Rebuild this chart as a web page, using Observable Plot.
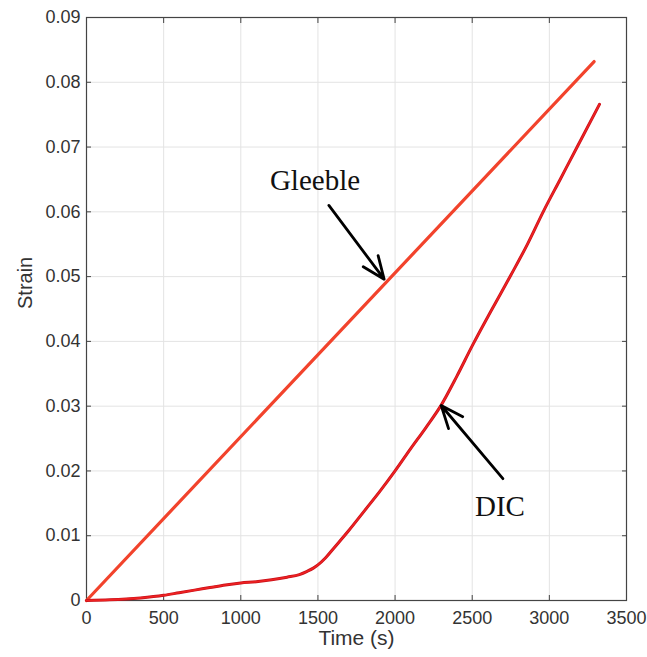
<!DOCTYPE html>
<html>
<head>
<meta charset="utf-8">
<script src="https://cdn.jsdelivr.net/npm/d3@7"></script>
<script src="https://cdn.jsdelivr.net/npm/@observablehq/plot@0.6"></script>
<style>
  html, body { margin: 0; padding: 0; background: #fff; }
  #chart svg { display: block; }
</style>
</head>
<body>
<div id="chart"></div>
<script>
// Gleeble (straight line)
const gleebleTime = [0, 3290];
const gleebleStrain = [0, 0.0832];

// DIC measured curve
const dicTime = [0, 150, 350, 500, 600, 700, 800, 900, 1000, 1100, 1200, 1300, 1380, 1430, 1470, 1500, 1550, 1600, 1700, 1800, 1900, 2000, 2100, 2200, 2300, 2400, 2500, 2620, 2750, 2860, 2960, 3070, 3180, 3325];
const dicStrain = [0, 0.0001, 0.0004, 0.0008, 0.0012, 0.0016, 0.0020, 0.0024, 0.0027, 0.0029, 0.0032, 0.0036, 0.0040, 0.0045, 0.0050, 0.0055, 0.0066, 0.0080, 0.0108, 0.0138, 0.0168, 0.0200, 0.0234, 0.0267, 0.0302, 0.0346, 0.0393, 0.0446, 0.0502, 0.0551, 0.0600, 0.0650, 0.0700, 0.0766];

const xTicks = [0, 500, 1000, 1500, 2000, 2500, 3000, 3500];
const yTicks = [0, 0.01, 0.02, 0.03, 0.04, 0.05, 0.06, 0.07, 0.08, 0.09];

// annotations
const labelText = ["Gleeble", "DIC"];
const labelTime = [1481, 2680];
const labelStrain = [0.0648, 0.0145];
const arrowX1 = [1571, 2699];
const arrowY1 = [0.0610, 0.0188];
const arrowX2 = [1929, 2299];
const arrowY2 = [0.0496, 0.0301];

const gleeble = gleebleTime.map((t, i) => ({t, s: gleebleStrain[i]}));
const dic = dicTime.map((t, i) => ({t, s: dicStrain[i]}));
const labels = labelText.map((text, i) => ({text, t: labelTime[i], s: labelStrain[i]}));
const arrows = arrowX1.map((x1, i) => ({x1, y1: arrowY1[i], x2: arrowX2[i], y2: arrowY2[i]}));

const axisFont = "'Liberation Sans', Arial, sans-serif";

const chart = Plot.plot({
  width: 647,
  height: 657,
  marginLeft: 86,
  marginRight: 21,
  marginTop: 17,
  marginBottom: 57,
  style: { fontFamily: axisFont, background: "#fff", overflow: "visible" },
  x: { domain: [0, 3500] },
  y: { domain: [0, 0.09] },
  marks: [
    Plot.gridX(xTicks, { stroke: "#e3e3e3", strokeOpacity: 1, strokeWidth: 1 }),
    Plot.gridY(yTicks, { stroke: "#e3e3e3", strokeOpacity: 1, strokeWidth: 1 }),
    Plot.axisX(xTicks, {
      anchor: "bottom", tickSize: -5, tickPadding: 16, stroke: "#444",
      fontSize: 18, fill: "#333", label: null, tickFormat: d => String(d)
    }),
    Plot.axisX(xTicks, { anchor: "top", tickSize: -5, stroke: "#444", tickFormat: () => "", label: null }),
    Plot.axisY(yTicks, {
      anchor: "left", tickSize: -5, tickPadding: 11, stroke: "#444",
      fontSize: 18, fill: "#333", label: null,
      tickFormat: d => d === 0 ? "0" : d.toFixed(2)
    }),
    Plot.axisY(yTicks, { anchor: "right", tickSize: -5, stroke: "#444", tickFormat: () => "", label: null }),
    Plot.frame({ stroke: "#444", strokeWidth: 1.2 }),
    Plot.text(["Time (s)"], { frameAnchor: "bottom", dy: 44, fontSize: 21, fill: "#333", fontFamily: axisFont }),
    Plot.text(["Strain"], { frameAnchor: "left", dx: -61, rotate: -90, fontSize: 20, fill: "#333", fontFamily: axisFont }),
    Plot.line(gleeble, { x: "t", y: "s", stroke: "#f2432c", strokeWidth: 3.2 }),
    Plot.line(dic, { x: "t", y: "s", stroke: "#c8101a", strokeWidth: 3, curve: "monotone-x" }),
    Plot.line(dic, { x: "t", y: "s", stroke: "#ee2222", strokeWidth: 1.6, curve: "monotone-x" }),
    Plot.arrow(arrows, { x1: "x1", y1: "y1", x2: "x2", y2: "y2", stroke: "#000", strokeWidth: 2.8, headLength: 13, headAngle: 45 }),
    Plot.text(labels, { x: "t", y: "s", text: "text", fontSize: 29, fill: "#111", fontFamily: "'Liberation Serif', 'Times New Roman', serif" })
  ]
});

document.getElementById("chart").appendChild(chart);
</script>
</body>
</html>
